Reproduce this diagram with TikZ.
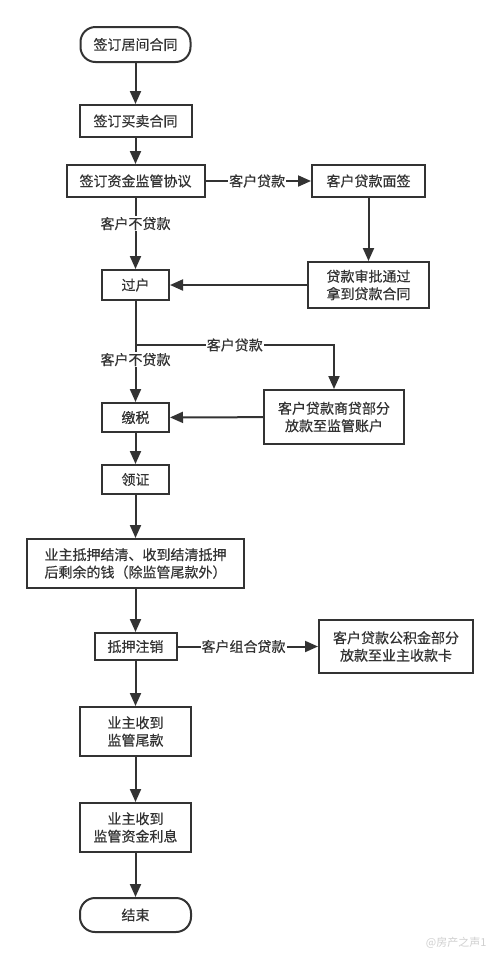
\documentclass[tikz,border=0pt]{standalone}
\usepackage{fontspec}
\setmainfont{Noto Sans CJK SC}
\newfontfamily\cjkmed[FakeBold=0.4]{Noto Sans CJK SC}
\usetikzlibrary{arrows.meta}
\definecolor{ink}{HTML}{333333}
\definecolor{wm}{HTML}{D0D0D0}
\tikzset{
  box/.style={draw=ink, line width=2pt, fill=white, text=ink, align=center, inner sep=0pt,
    font=\cjkmed\fontsize{14}{17.5}\selectfont},
  term/.style={box, rounded corners=15pt},
  conn/.style={draw=ink, line width=2pt, -{Triangle[length=13pt,width=11pt]}},
  lbl/.style={fill=white, text=ink, inner sep=1pt, font=\cjkmed\fontsize{14}{17.5}\selectfont}
}
\begin{document}
\begin{tikzpicture}[x=1pt,y=-1pt]
\useasboundingbox[fill=white] (0,0) rectangle (500,959);
\node[term, minimum width=110pt, minimum height=35pt] (start) at (135.5,44.5) {签订居间合同};
\node[box, minimum width=112pt, minimum height=32pt] (b1) at (135.5,121) {签订买卖合同};
\node[box, minimum width=138pt, minimum height=32pt] (b2) at (135.5,181) {签订资金监管协议};
\node[box, minimum width=113pt, minimum height=32pt] (b3) at (368.5,181) {客户贷款面签};
\node[box, minimum width=121pt, minimum height=46pt] (b4) at (368.5,285) {贷款审批通过\\拿到贷款合同};
\node[box, minimum width=67pt, minimum height=30pt] (b5) at (135.5,285) {过户};
\node[box, minimum width=140pt, minimum height=54pt] (b6) at (334,417) {客户贷款商贷部分\\放款至监管账户};
\node[box, minimum width=67pt, minimum height=29pt] (b7) at (135.5,417.5) {缴税};
\node[box, minimum width=67pt, minimum height=29pt] (b8) at (135.5,479.5) {领证};
\node[box, minimum width=217pt, minimum height=49pt] (b9) at (135.5,563.5) {业主抵押结清、收到结清抵押\\后剩余的钱（除监管尾款外）};
\node[box, minimum width=82pt, minimum height=27pt] (b10) at (135.5,646.5) {抵押注销};
\node[box, minimum width=154pt, minimum height=53pt] (b11) at (396,646.5) {客户贷款公积金部分\\放款至业主收款卡};
\node[box, minimum width=111pt, minimum height=49pt] (b12) at (135.5,731.5) {业主收到\\监管尾款};
\node[box, minimum width=111pt, minimum height=49pt] (b13) at (135.5,827.5) {业主收到\\监管资金利息};
\node[term, minimum width=111pt, minimum height=34pt] (end) at (135.5,915) {结束};
\coordinate (br) at (135.5,345);

\draw[conn] (start) -- (b1);
\draw[conn] (b1) -- (b2);
\draw[conn] (b2) -- node[lbl, pos=0.49] {客户贷款} (b3);
\draw[conn] (b2) -- node[lbl, pos=0.36] {客户不贷款} (b5);
\draw[conn] (b3) -- (b4);
\draw[conn] (b4) -- (b5);
\draw[conn] (b5) -- node[lbl, pos=0.58] {客户不贷款} (b7);
\draw[conn] (br) -| node[lbl, pos=0.25] {客户贷款} (b6.north);
\draw[conn] (b6) -- (b7);
\draw[conn] (b7) -- (b8);
\draw[conn] (b8) -- (b9);
\draw[conn] (b9) -- (b10);
\draw[conn] (b10) -- node[lbl, pos=0.47] {客户组合贷款} (b11);
\draw[conn] (b10) -- (b12);
\draw[conn] (b12) -- (b13);
\draw[conn] (b13) -- (end);
\node[text=wm, font=\fontsize{11}{13}\selectfont, anchor=east] (wmark) at (490,943) {@房产之声1};
\end{tikzpicture}
\end{document}
